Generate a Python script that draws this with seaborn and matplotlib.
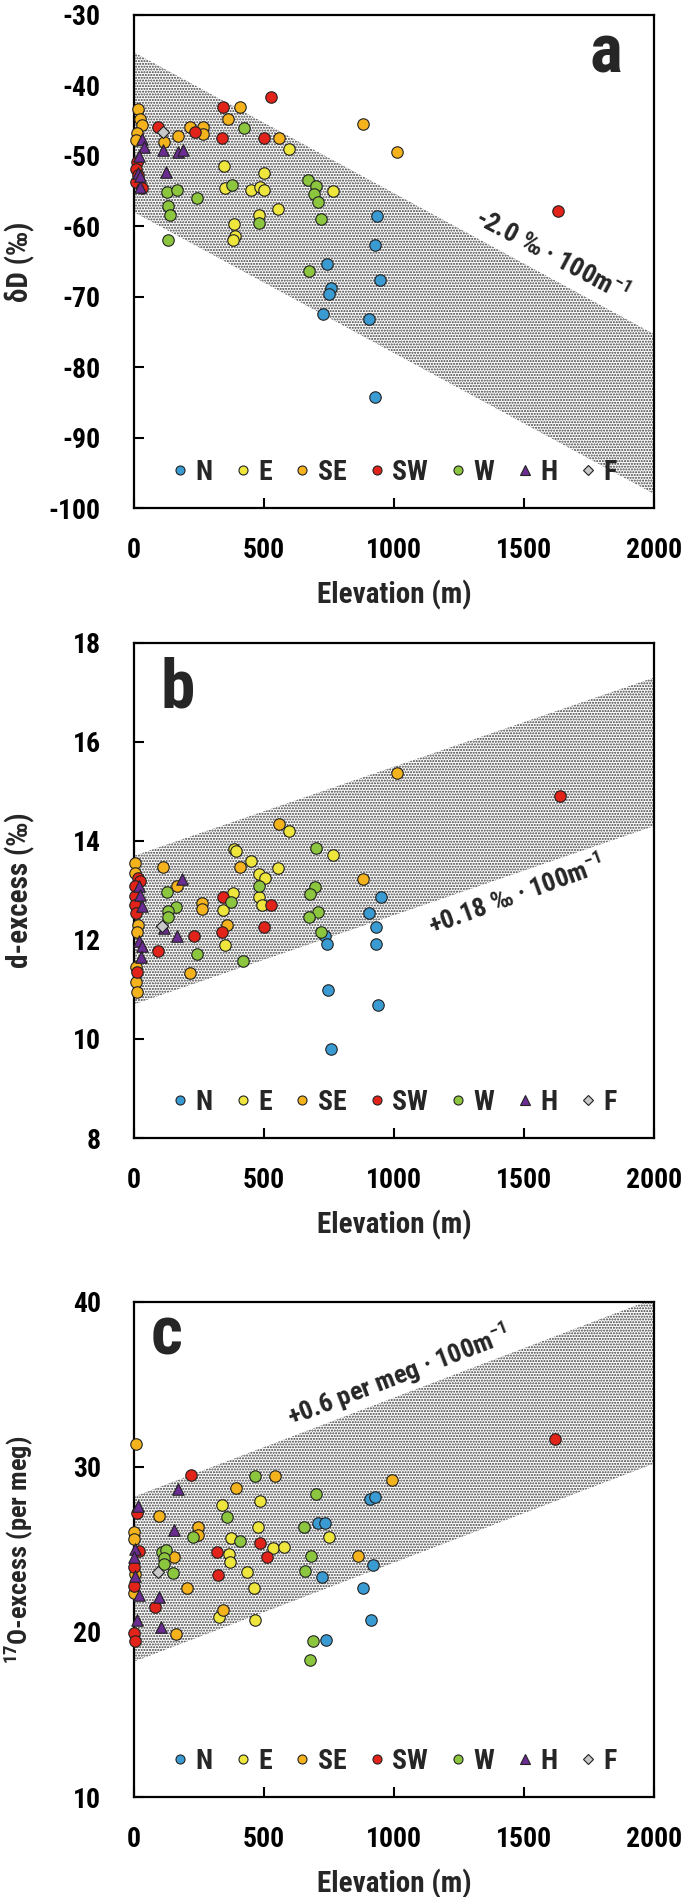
import matplotlib
matplotlib.use("Agg")
import matplotlib.pyplot as plt
import seaborn as sns
import pandas as pd
from matplotlib import font_manager
from matplotlib.lines import Line2D

# ---------------- data ----------------
groups = ["N", "E", "SE", "SW", "W", "H", "F"]
colors = {"N": "#3A9BD2", "E": "#EEE63C", "SE": "#F4B21C", "SW": "#E2231A",
          "W": "#8CC63F", "H": "#6A2C91", "F": "#C8C8C8"}
markers = {"N": "o", "E": "o", "SE": "o", "SW": "o", "W": "o", "H": "^", "F": "D"}

xticks = [0, 500, 1000, 1500, 2000]
band_x = [0, 2000]

# panel a : dD (permil) vs elevation (m)
a_N = [(936, -58.6), (927, -62.6), (741, -65.4), (756, -68.7), (750, -69.6), (728, -72.5),
       (904, -73.2), (946, -67.6), (927, -84.2)]
a_E = [(596, -49.0), (346, -51.5), (500, -52.5), (350, -54.6), (450, -54.8), (485, -54.4),
       (500, -54.8), (555, -57.6), (767, -55.0), (482, -58.4), (385, -59.7), (388, -61.4), (382, -61.9)]
a_SE = [(14, -43.3), (23, -44.8), (30, -45.6), (10, -46.8), (8, -47.8), (115, -48.1), (171, -47.2),
        (215, -45.9), (264, -45.9), (267, -46.9), (360, -44.7), (408, -43.0), (559, -47.5),
        (879, -45.5), (1010, -49.5)]
a_SW = [(10, -50.9), (8, -51.8), (15, -52.7), (8, -53.7), (30, -54.6), (94, -45.9), (235, -46.6),
        (344, -43.1), (337, -47.5), (527, -41.7), (501, -47.4), (1631, -57.8)]
a_W = [(423, -46.1), (126, -55.1), (167, -54.8), (244, -56.0), (132, -57.1), (138, -58.4),
       (132, -61.9), (376, -54.1), (482, -59.5), (671, -53.4), (699, -54.3), (694, -55.4),
       (706, -56.6), (718, -59.0), (674, -66.4)]
a_H = [(31, -47.6), (37, -48.7), (20, -50.0), (15, -52.5), (23, -54.4), (25, -52.9),
       (110, -49.2), (123, -52.3), (171, -49.4), (190, -49.2)]
a_F = [(113, -46.6)]
a_band_upper = [-35.3, -75.3]
a_band_lower = [-58.0, -98.0]
a_yticks = [-100, -90, -80, -70, -60, -50, -40, -30]

# panel b : d-excess (permil)
b_N = [(735, 12.07), (744, 11.92), (949, 12.86), (905, 12.55), (929, 12.27), (929, 11.92),
       (747, 10.99), (937, 10.69), (756, 9.79)]
b_E = [(382, 12.94), (344, 12.61), (350, 11.89), (386, 13.83), (392, 13.80), (450, 13.60),
       (482, 13.33), (504, 13.26), (482, 12.86), (491, 12.71), (555, 13.45), (597, 14.20), (767, 13.72)]
b_SE = [(4, 13.56), (4, 13.35), (15, 12.30), (10, 12.17), (8, 11.46), (8, 11.16), (10, 10.95),
        (110, 13.48), (167, 13.09), (260, 12.74), (263, 12.62), (215, 11.33), (359, 12.30),
        (408, 13.48), (559, 14.34), (882, 13.23), (1013, 15.38)]
b_SW = [(15, 13.25), (25, 13.20), (5, 13.10), (5, 12.88), (3, 12.71), (8, 12.54), (12, 11.36),
        (91, 11.78), (232, 12.08), (341, 12.87), (337, 12.17), (526, 12.71), (500, 12.27), (1638, 14.91)]
b_W = [(126, 12.96), (162, 12.66), (132, 12.59), (130, 12.46), (241, 11.72), (373, 12.77),
       (421, 11.58), (482, 13.09), (699, 13.86), (696, 13.06), (677, 12.93), (709, 12.56),
       (673, 12.46), (718, 12.17)]
b_H = [(20, 13.09), (25, 12.90), (30, 12.68), (20, 11.97), (30, 11.87), (28, 11.66),
       (183, 13.23), (115, 12.24), (167, 12.08)]
b_F = [(106, 12.28)]
b_band_upper = [13.7, 17.3]
b_band_lower = [10.7, 14.3]
b_yticks = [8, 10, 12, 14, 16, 18]

# panel c : 17O-excess (per meg)
c_N = [(908, 28.04), (927, 28.20), (709, 26.59), (735, 26.59), (918, 24.06), (722, 23.35),
       (882, 22.68), (912, 20.73), (737, 19.52)]
c_E = [(337, 27.70), (485, 27.96), (478, 26.35), (750, 25.78), (372, 25.68), (536, 25.11),
       (578, 25.17), (367, 24.73), (369, 24.26), (433, 23.65), (463, 22.65), (328, 20.93), (465, 20.73)]
c_SE = [(8, 31.38), (542, 29.45), (391, 28.71), (991, 29.21), (97, 27.03), (0, 26.08), (0, 25.62),
        (247, 26.35), (247, 25.88), (155, 24.53), (863, 24.62), (3, 23.50), (0, 22.38),
        (203, 22.65), (344, 21.33), (162, 19.88)]
c_SW = [(218, 29.52), (10, 27.24), (485, 25.41), (20, 24.93), (320, 24.87), (510, 24.56),
        (0, 23.96), (0, 22.79), (324, 23.45), (81, 21.50), (0, 19.92), (5, 19.47), (1620, 31.68)]
c_W = [(465, 29.45), (700, 28.35), (359, 26.99), (228, 25.74), (654, 26.35), (408, 25.52),
       (106, 24.87), (123, 24.97), (115, 24.47), (115, 24.12), (679, 24.60), (149, 23.55),
       (658, 23.71), (687, 19.47), (677, 18.30)]
c_H = [(170, 28.65), (14, 27.64), (155, 26.18), (4, 25.01), (0, 24.56), (4, 23.39), (19, 22.24),
       (96, 22.10), (13, 20.73), (104, 20.28)]
c_F = [(94, 23.65)]
c_band_upper = [28.2, 40.2]
c_band_lower = [18.2, 30.2]
c_yticks = [10, 20, 30, 40]

# ---------------- style ----------------
sns.set_theme(style="white")
names = {f.name for f in font_manager.fontManager.ttflist}
FONT = next(f for f in ["Liberation Sans Narrow", "Roboto Condensed", "Liberation Sans", "DejaVu Sans"]
            if f in names)
plt.rcParams["font.family"] = [FONT, "DejaVu Sans"]
plt.rcParams["mathtext.fontset"] = "custom"
plt.rcParams["mathtext.rm"] = FONT
plt.rcParams["mathtext.it"] = FONT + ":italic"
plt.rcParams["mathtext.bf"] = FONT + ":bold"
plt.rcParams["mathtext.default"] = "regular"
plt.rcParams["axes.unicode_minus"] = False
plt.rcParams["hatch.linewidth"] = 1.0
plt.rcParams["hatch.color"] = "#3a3a3a"


def frame(pts_by_group):
    rows = []
    for g, pts in pts_by_group.items():
        for e, v in pts:
            rows.append({"elev": e, "val": v, "group": g})
    return pd.DataFrame(rows)


panels = [
    dict(df=frame({"N": a_N, "E": a_E, "SE": a_SE, "SW": a_SW, "W": a_W, "H": a_H, "F": a_F}),
         up=a_band_upper, lo=a_band_lower, yticks=a_yticks, ylim=(-100, -30),
         ylabel="δD (‰)", ylsize=21, letter="a", lpos=(0.908, 0.884),
         slope="-2.0 ‰ · 100m$^{-1}$", spos=(1604, -64.1), srot=-28,
         rect=[0.1956, 0.7322, 0.7591, 0.2599]),
    dict(df=frame({"N": b_N, "E": b_E, "SE": b_SE, "SW": b_SW, "W": b_W, "H": b_H, "F": b_F}),
         up=b_band_upper, lo=b_band_lower, yticks=b_yticks, ylim=(8, 18),
         ylabel="d-excess (‰)", ylsize=21, letter="b", lpos=(0.083, 0.869),
         slope="+0.18 ‰ · 100m$^{-1}$", spos=(1469, 12.9), srot=20,
         rect=[0.1956, 0.4001, 0.7591, 0.2610]),
    dict(df=frame({"N": c_N, "E": c_E, "SE": c_SE, "SW": c_SW, "W": c_W, "H": c_H, "F": c_F}),
         up=c_band_upper, lo=c_band_lower, yticks=c_yticks, ylim=(10, 40),
         ylabel="$^{17}$O-excess (per meg)", ylsize=19, letter="c", lpos=(0.063, 0.893),
         slope="+0.6 per meg · 100m$^{-1}$", spos=(1015, 35.5), srot=21,
         rect=[0.1956, 0.0527, 0.7591, 0.2610]),
]

fig = plt.figure(figsize=(6.85, 18.97), dpi=100)

for p in panels:
    ax = fig.add_axes(p["rect"])
    ax.fill_between(band_x, p["lo"], p["up"], facecolor="white", edgecolor="#3a3a3a",
                    hatch="......", linewidth=0, zorder=1)
    df = p["df"]
    for g in groups:
        sub = df[df["group"] == g]
        if sub.empty:
            continue
        sns.scatterplot(data=sub, x="elev", y="val", ax=ax, color=colors[g], marker=markers[g],
                        s=38 if g == "F" else 68, edgecolor="#222222", linewidth=0.8,
                        clip_on=False, zorder=3, legend=False)
    ax.set_xlim(0, 2000)
    ax.set_ylim(*p["ylim"])
    ax.set_xticks(xticks)
    ax.set_yticks(p["yticks"])
    ax.tick_params(axis="both", direction="in", length=7, width=1.5, labelsize=20,
                   colors="black", bottom=True, left=True, top=False, right=False)
    ax.tick_params(axis="y", pad=24)
    ax.tick_params(axis="x", pad=21)
    for lab in ax.get_xticklabels() + ax.get_yticklabels():
        lab.set_fontweight("bold")
    for sp in ax.spines.values():
        sp.set_color("black")
        sp.set_linewidth(1.6)
    ax.set_xlabel("Elevation (m)", fontsize=21, fontweight="bold")
    ax.set_ylabel(p["ylabel"], fontsize=p["ylsize"], fontweight="bold")
    ax.xaxis.set_label_coords(0.5, -0.145)
    ax.yaxis.set_label_coords(-0.19, 0.5)
    ax.text(p["lpos"][0], p["lpos"][1], p["letter"], transform=ax.transAxes, fontsize=50,
            fontweight="bold", ha="center", va="baseline", zorder=5)
    ax.text(p["spos"][0], p["spos"][1], p["slope"], fontsize=19, fontweight="bold",
            rotation=p["srot"], rotation_mode="anchor", ha="center", va="center", zorder=4)
    handles = [Line2D([], [], ls="", marker=markers[g], markersize=6.5 if g != "F" else 5.5,
                      markerfacecolor=colors[g], markeredgecolor="#222222", markeredgewidth=0.8,
                      label=g) for g in groups]
    leg = ax.legend(handles=handles, ncol=7, loc="center", bbox_to_anchor=(0.5, 0.072),
                    frameon=False, fontsize=20, handletextpad=0.25, columnspacing=0.8,
                    handlelength=0.6, borderaxespad=0, borderpad=0)
    for t in leg.get_texts():
        t.set_fontweight("bold")

fig.savefig("out.png", dpi=100)
